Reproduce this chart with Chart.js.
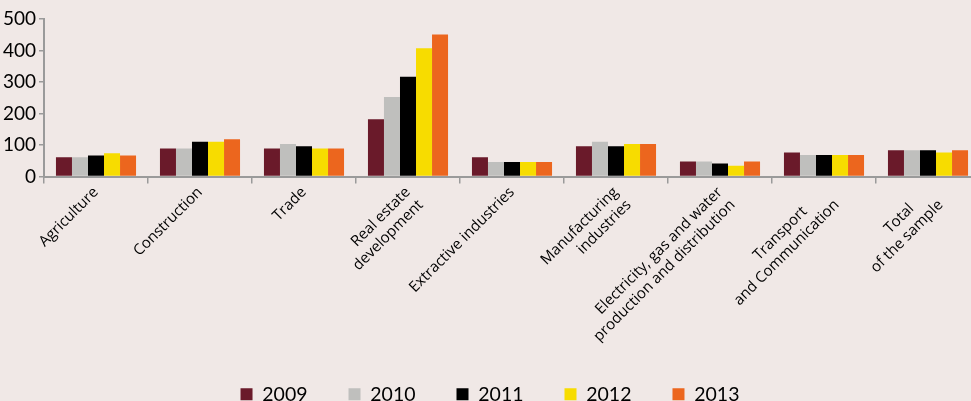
<!DOCTYPE html>
<html><head><meta charset="utf-8">
<script src="https://cdn.jsdelivr.net/npm/chart.js@4/dist/chart.umd.min.js"></script>
<style>
html,body{margin:0;padding:0;background:#f0e8e6;overflow:hidden;}
#wrap{width:980px;height:414px;}
</style></head><body>
<div id="wrap"><canvas id="c"></canvas></div>
<script>
const categories = [
  "Agriculture",
  "Construction",
  "Trade",
  ["Real estate","development"],
  "Extractive industries",
  ["Manufacturing","industries"],
  ["Electricity, gas and water","production and distribution"],
  ["Transport       ","and Communication"],
  ["Total      ","of the sample"]
];
const years = ["2009","2010","2011","2012","2013"];
const v2009 = [61, 89, 89, 182, 61, 96, 48, 76, 83];
const v2010 = [61, 89, 103, 252, 46, 110, 48, 68, 83];
const v2011 = [67, 110, 96, 317, 46, 96, 41, 68, 83];
const v2012 = [74, 110, 89, 407, 46, 103, 34, 68, 76];
const v2013 = [67, 118, 89, 451, 46, 103, 48, 68, 83];
const yTicks = [0,100,200,300,400,500];
const colors = ["#6a1a2a","#bfbfbd","#000000","#f7dc00","#ec661e"];
const series = [v2009, v2010, v2011, v2012, v2013];

const FONT = "Lato, 'Open Sans', sans-serif";
const LFONT = "'Open Sans', Lato, sans-serif";

new Chart(document.getElementById('c'), {
  type: 'bar',
  data: {
    labels: categories,
    datasets: series.map((s,i)=>({
      label: years[i], data: s, backgroundColor: colors[i], borderWidth: 0
    }))
  },
  options: {
    responsive: true, maintainAspectRatio: false, animation: false,
    layout: { padding: { top: 19, left: 0, right: 0, bottom: 0 } },
    datasets: { bar: { categoryPercentage: 0.77, barPercentage: 1.0 } },
    plugins: {
      tooltip: { enabled: false },
      legend: {
        position: 'bottom',
        labels: { boxWidth: 12, boxHeight: 12, padding: 41, color: '#000',
          font: { family: FONT, size: 19.5 } }
      }
    },
    scales: {
      x: {
        offset: true,
        border: { color: '#9a9a9a', width: 2 },
        grid: { display: true, offset: true, drawOnChartArea: false, color: '#9a9a9a', tickLength: 7, lineWidth: 1.5 },
        ticks: { minRotation: 45, maxRotation: 45, color: '#000', padding: 0,
          font: { family: LFONT, size: 15 } },
        afterFit: (s) => { s.height = 167; }
      },
      y: {
        min: 0, max: 500,
        afterBuildTicks: (s) => { s.ticks = yTicks.map(v=>({value:v})); },
        border: { color: '#9a9a9a', width: 2 },
        grid: { display: true, drawOnChartArea: false, color: '#9a9a9a', tickLength: 5, lineWidth: 1.5 },
        ticks: { color: '#000', padding: 3, font: { family: FONT, size: 19 } },
        afterFit: (s) => { s.width = 44; }
      }
    }
  }
});
</script>
</body></html>
